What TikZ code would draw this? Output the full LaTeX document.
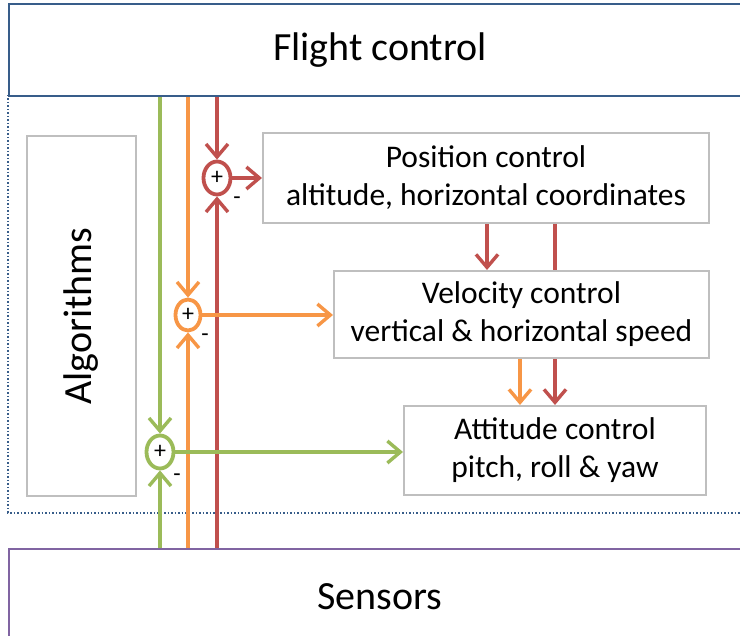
\documentclass[tikz,border=0pt]{standalone}
\usepackage{fontspec}
\setmainfont{Carlito}
\usetikzlibrary{arrows.meta,shapes.geometric}
\definecolor{cred}{HTML}{C0504D}
\definecolor{corange}{HTML}{F79646}
\definecolor{cgreen}{HTML}{9BBB59}
\definecolor{cblue}{HTML}{385D8A}
\definecolor{cpurple}{HTML}{8064A2}
\definecolor{cgray}{HTML}{BFBFBF}
\tikzset{
  bigbox/.style={draw, line width=2pt, rectangle, inner sep=0pt, font=\fontsize{40}{48}\selectfont},
  ctrlbox/.style={draw=cgray, line width=2pt, rectangle, inner sep=0pt, align=center,
    font=\fontsize{31.5}{38}\selectfont},
  sumjunc/.style={draw, ellipse, line width=3.8pt, inner sep=0pt, minimum width=25pt,
    minimum height=31pt, font=\fontsize{24}{24}\selectfont},
  minus/.style={font=\fontsize{24}{24}\selectfont, inner sep=0pt},
  flow/.style={line width=3.4pt},
  flowarrow/.style={line width=3.4pt, -{Straight Barb[length=13pt,width=22pt,line width=3.4pt]}},
}
\begin{document}
\begin{tikzpicture}[x=1pt,y=-1pt]
\useasboundingbox (0,0) rectangle (740,636);
\clip (0,0) rectangle (740,636);

% frame of the algorithm layer
\draw[cblue, line width=1.5pt, dotted] (8,95) -- (8,513) -- (760,513);

% top and bottom blocks
\node[bigbox, draw=cblue, minimum width=760pt, minimum height=92pt, anchor=north west]
  (fc) at (8,3) {};
\node at (380,50) {\fontsize{40}{48}\selectfont Flight control};
\node[bigbox, draw=cpurple, minimum width=760pt, minimum height=110pt, anchor=north west]
  (sen) at (8,548) {};
\node at (380,597) {\fontsize{40}{48}\selectfont Sensors};

% algorithms column
\node[ctrlbox, minimum width=109pt, minimum height=360pt, anchor=north west]
  (alg) at (26,135) {};
\node[rotate=90, font=\fontsize{40}{48}\selectfont] at (alg.center) {Algorithms};

% control loops
\node[ctrlbox, minimum width=446pt, minimum height=90pt, anchor=north west]
  (pos) at (262,132) {Position control\\altitude, horizontal coordinates};
\node[ctrlbox, minimum width=375pt, minimum height=87pt, anchor=north west]
  (vel) at (333,270) {Velocity control\\vertical \& horizontal speed};
\node[ctrlbox, minimum width=302pt, minimum height=89pt, anchor=north west]
  (att) at (403,405) {Attitude control\\pitch, roll \& yaw};

% summing junctions
\node[sumjunc, draw=cred, minimum width=27pt, minimum height=33pt] (sP) at (217,178) {+};
\node[sumjunc, draw=corange] (sV) at (188,315) {+};
\node[sumjunc, draw=cgreen, minimum width=27pt, minimum height=33pt] (sA) at (160,452) {+};
\node[minus] (mP) at (237,201) {-};
\node[minus] (mV) at (205,338) {-};
\node[minus] (mA) at (177,478) {-};

% setpoint and feedback lines
\draw[flowarrow, cred] (fc.south -| sP) -- (sP.north);
\draw[flowarrow, cred] (sen.north -| sP) -- (sP.south);
\draw[flowarrow, corange] (fc.south -| sV) -- (sV.north);
\draw[flowarrow, corange] (sen.north -| sV) -- (sV.south);
\draw[flowarrow, cgreen] (fc.south -| sA) -- (sA.north);
\draw[flowarrow, cgreen] (sen.north -| sA) -- (sA.south);

% error signals into the controllers
\draw[flowarrow, cred] (sP.east) -- (pos.west |- sP);
\draw[flowarrow, corange] (sV.east) -- (vel.west |- sV);
\draw[flowarrow, cgreen] (sA.east) -- (att.west |- sA);

% cascade between controllers
\coordinate (p1) at (487,0);
\coordinate (p2) at (555,0);
\coordinate (p3) at (520,0);
\draw[flowarrow, cred] (pos.south -| p1) -- (vel.north -| p1);
\draw[flow, cred] (pos.south -| p2) -- (vel.north -| p2);
\draw[flowarrow, cred] (vel.south -| p2) -- (att.north -| p2);
\draw[flowarrow, corange] (vel.south -| p3) -- (att.north -| p3);
\end{tikzpicture}
\end{document}
